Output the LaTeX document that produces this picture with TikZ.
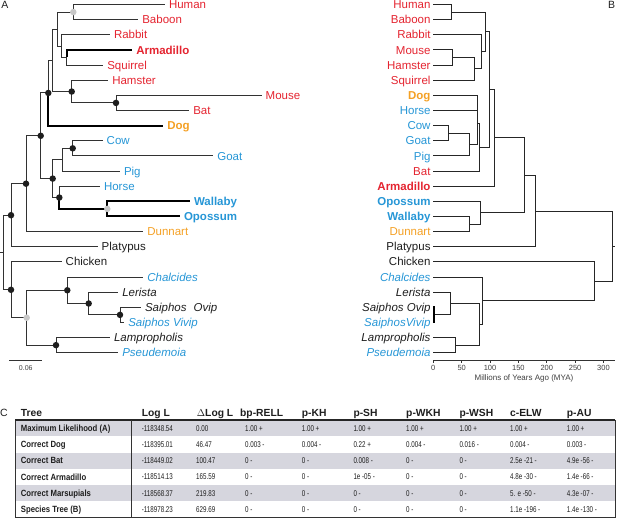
\documentclass[tikz,border=0pt]{standalone}
\usepackage{fontspec}
\setmainfont{Liberation Sans}
\newfontfamily\narrowsans[FakeStretch=0.74]{Liberation Sans}
\newfontfamily\narrowbold[FakeStretch=0.86]{Liberation Sans Bold}
\definecolor{tred}{RGB}{228,36,48}
\definecolor{torange}{RGB}{244,160,36}
\definecolor{tblue}{RGB}{38,150,214}
\definecolor{tblack}{RGB}{30,30,30}
\definecolor{tgray}{RGB}{200,200,200}
\definecolor{linec}{RGB}{50,50,50}
\definecolor{dotblack}{RGB}{30,30,30}
\definecolor{rowgray}{RGB}{214,214,222}
\begin{document}
\begin{tikzpicture}[x=1pt,y=-1pt,line join=miter,
  br/.style={draw=linec,line width=1pt},
  hbr/.style={draw=black,line width=2pt},
  lbl/.style={inner sep=0pt,text height=8.2pt,text depth=0pt,font=\fontsize{11.5}{13}\selectfont},
  lA/.style={lbl,anchor=west,xshift=3.8pt},
  lB/.style={lbl,anchor=east,xshift=-2.6pt},
  cr/.style={text=tred}, cor/.style={text=torange}, cb/.style={text=tblue}, ck/.style={text=tblack},
  bfl/.style={font=\fontsize{11.5}{13}\selectfont\bfseries},
  itl/.style={font=\fontsize{11.5}{13}\selectfont\itshape},
  bdot/.style={circle,fill=dotblack,inner sep=0pt,minimum size=6.5pt},
  gdot/.style={circle,fill=tgray,inner sep=0pt,minimum size=6.5pt},
  panel/.style={inner sep=0pt,font=\fontsize{10.5}{12}\selectfont,text=tblack},
  small/.style={inner sep=0pt,font=\fontsize{7.5}{9}\selectfont,text=tblack!85},
  hdr/.style={inner sep=0pt,anchor=west,text height=7.4pt,text depth=0pt,font=\fontsize{10.3}{12}\selectfont\bfseries,text=tblack},
  rlab/.style={inner sep=0pt,anchor=west,text height=6.5pt,text depth=0pt,font=\narrowbold\fontsize{9}{10}\selectfont,text=tblack},
  val/.style={inner sep=0pt,anchor=west,text height=6pt,text depth=0pt,font=\narrowsans\fontsize{8.4}{9}\selectfont,text=tblack},
]
\useasboundingbox (0,0) rectangle (617,528);

% ================= Tree A =================
\node[panel] (pA) at (5,5) {A};
% tips
\coordinate (aHuman) at (165,4.5);
\coordinate (aBaboon) at (138.3,19.64);
\coordinate (aRabbit) at (110,34.78);
\coordinate (aArmadillo) at (132.3,49.92);
\coordinate (aSquirrel) at (103.3,65.06);
\coordinate (aHamster) at (108.3,80.2);
\coordinate (aMouse) at (261.7,95.34);
\coordinate (aBat) at (189.3,110.48);
\coordinate (aDog) at (163.3,125.62);
\coordinate (aCow) at (102.7,140.76);
\coordinate (aGoat) at (213.3,155.9);
\coordinate (aPig) at (120,171.04);
\coordinate (aHorse) at (100,186.18);
\coordinate (aWallaby) at (190,201.32);
\coordinate (aOpossum) at (180,216.46);
\coordinate (aDunnart) at (143.3,231.6);
\coordinate (aPlatypus) at (97.7,246.74);
\coordinate (aChicken) at (61.7,261.88);
\coordinate (aChalcides) at (143.3,277.02);
\coordinate (aLerista) at (118.3,292.16);
\coordinate (aSOvip) at (141,307.3);
\coordinate (aSVivip) at (124.3,322.44);
\coordinate (aLampro) at (110,337.58);
\coordinate (aPseud) at (118.3,352.72);
% internal
\coordinate (nHB) at (73.3,12.07);
\coordinate (nAS) at (66.7,57.49);
\coordinate (nRAS) at (61,46.14);
\coordinate (nEA) at (57.7,29.1);
\coordinate (nMB) at (116,102.91);
\coordinate (nHMB) at (71.7,91.56);
\coordinate (nU1) at (52,60.33);
\coordinate (nD) at (48.3,92.98);
\coordinate (nCG) at (72.7,148.33);
\coordinate (nCGP) at (62,159.69);
\coordinate (nWO) at (107.3,208.89);
\coordinate (nHWO) at (59.3,197.54);
\coordinate (nL) at (52.7,178.6);
\coordinate (nE) at (40.7,135.8);
\coordinate (nT) at (26,183.7);
\coordinate (nM) at (11,215.2);
\coordinate (nSS) at (120,314.87);
\coordinate (nLS) at (88.7,303.5);
\coordinate (nCLS) at (67.3,290.26);
\coordinate (nLP) at (56,345.15);
\coordinate (nSq) at (26.7,317.7);
\coordinate (nR) at (11,289.8);
\coordinate (nRoot) at (3,252.5);
\coordinate (nStub) at (0,252.5);

\foreach \p/\c in {nHB/aHuman,nHB/aBaboon,nAS/aSquirrel,nRAS/aRabbit,nRAS/nAS,
  nEA/nHB,nEA/nRAS,nMB/aMouse,nMB/aBat,nHMB/aHamster,nHMB/nMB,nU1/nEA,nU1/nHMB,
  nD/nU1,nCG/aCow,nCG/aGoat,nCGP/nCG,nCGP/aPig,nHWO/aHorse,nL/nCGP,nL/nHWO,
  nE/nD,nE/nL,nT/nE,nT/aDunnart,nM/nT,nM/aPlatypus,nSS/aSOvip,nSS/aSVivip,
  nLS/aLerista,nLS/nSS,nCLS/aChalcides,nCLS/nLS,nLP/aLampro,nLP/aPseud,
  nSq/nCLS,nSq/nLP,nR/aChicken,nR/nSq,nRoot/nM,nRoot/nR}
  \draw[br] (\p) |- (\c);
\draw[br] (nStub) -- (nRoot);
\foreach \p/\c in {nAS/aArmadillo,nD/aDog,nWO/aWallaby,nWO/aOpossum,nHWO/nWO}
  \draw[hbr] (\p) |- (\c);

\foreach \n in {nD,nHMB,nMB,nE,nCG,nL,nHWO,nT,nM,nR,nCLS,nLS,nSS,nLP}
  \node[bdot] (d\n) at (\n) {};
\foreach \n in {nHB,nWO,nSq}
  \node[gdot] (d\n) at (\n) {};

\node[lA,cr] (laHuman) at (aHuman) {Human};
\node[lA,cr] (laBaboon) at (aBaboon) {Baboon};
\node[lA,cr] (laRabbit) at (aRabbit) {Rabbit};
\node[lA,cr,bfl] (laArmadillo) at (aArmadillo) {Armadillo};
\node[lA,cr] (laSquirrel) at (aSquirrel) {Squirrel};
\node[lA,cr] (laHamster) at (aHamster) {Hamster};
\node[lA,cr] (laMouse) at (aMouse) {Mouse};
\node[lA,cr] (laBat) at (aBat) {Bat};
\node[lA,cor,bfl] (laDog) at (aDog) {Dog};
\node[lA,cb] (laCow) at (aCow) {Cow};
\node[lA,cb] (laGoat) at (aGoat) {Goat};
\node[lA,cb] (laPig) at (aPig) {Pig};
\node[lA,cb] (laHorse) at (aHorse) {Horse};
\node[lA,cb,bfl] (laWallaby) at (aWallaby) {Wallaby};
\node[lA,cb,bfl] (laOpossum) at (aOpossum) {Opossum};
\node[lA,cor] (laDunnart) at (aDunnart) {Dunnart};
\node[lA,ck] (laPlatypus) at (aPlatypus) {Platypus};
\node[lA,ck] (laChicken) at (aChicken) {Chicken};
\node[lA,cb,itl] (laChalcides) at (aChalcides) {Chalcides};
\node[lA,ck,itl] (laLerista) at (aLerista) {Lerista};
\node[lA,ck,itl] (laSOvip) at (aSOvip) {Saiphos\hspace{4pt} Ovip};
\node[lA,cb,itl] (laSVivip) at (aSVivip) {Saiphos Vivip};
\node[lA,ck,itl] (laLampro) at (aLampro) {Lampropholis};
\node[lA,cb,itl] (laPseud) at (aPseud) {Pseudemoia};

% scale bar
\coordinate (sb0) at (9.3,360.7);
\coordinate (sb1) at (42.3,360.7);
\draw[br,line width=0.9pt] (sb0) -- (sb1);
\node[small,font=\fontsize{7}{8}\selectfont] (sbl) at (25.8,368) {0.06};

% ================= Tree B =================
\node[panel] (pB) at (611.7,5.3) {B};
\coordinate (bHuman) at (433.3,4.5);
\coordinate (bBaboon) at (433.3,19.64);
\coordinate (bRabbit) at (433.3,34.78);
\coordinate (bMouse) at (433.3,49.92);
\coordinate (bHamster) at (433.3,65.06);
\coordinate (bSquirrel) at (433.3,80.2);
\coordinate (bDog) at (433.3,95.34);
\coordinate (bHorse) at (433.3,110.48);
\coordinate (bCow) at (433.3,125.62);
\coordinate (bGoat) at (433.3,140.76);
\coordinate (bPig) at (433.3,155.9);
\coordinate (bBat) at (433.3,171.04);
\coordinate (bArmadillo) at (433.3,186.18);
\coordinate (bOpossum) at (433.3,201.32);
\coordinate (bWallaby) at (433.3,216.46);
\coordinate (bDunnart) at (433.3,231.6);
\coordinate (bPlatypus) at (433.3,246.74);
\coordinate (bChicken) at (433.3,261.88);
\coordinate (bChalcides) at (433.3,277.02);
\coordinate (bLerista) at (433.3,292.16);
\coordinate (bSOvip) at (433.3,307.3);
\coordinate (bSVivip) at (433.3,322.44);
\coordinate (bLampro) at (433.3,337.58);
\coordinate (bPseud) at (433.3,352.72);

\coordinate (mHB) at (451,12.07);
\coordinate (mMH) at (452.7,57.49);
\coordinate (mMHS) at (474.3,68.85);
\coordinate (mRMHS) at (481,51.8);
\coordinate (mEA) at (485,31.94);
\coordinate (mCG) at (448.3,133.19);
\coordinate (mCGP) at (469.3,144.5);
\coordinate (mDH) at (477,102.91);
\coordinate (mX) at (477.7,123.7);
\coordinate (mLau) at (479,147.4);
\coordinate (mB1) at (489.3,89.67);
\coordinate (mB2) at (494,137.9);
\coordinate (mWD) at (469.3,224.03);
\coordinate (mOWD) at (480.7,212.7);
\coordinate (mTh) at (524.3,175.3);
\coordinate (mMam) at (535.7,211);
\coordinate (mSS) at (434.3,314.87);
\coordinate (mLS) at (450,303.5);
\coordinate (mLP) at (455,345.15);
\coordinate (mLSLP) at (479.3,324.3);
\coordinate (mCh) at (482.7,300.7);
\coordinate (mRep) at (594,281.3);
\coordinate (mRoot) at (612.3,246.1);
\coordinate (mStub) at (615,246.1);

\foreach \p/\c in {mHB/bHuman,mHB/bBaboon,mMH/bMouse,mMH/bHamster,mMHS/mMH,mMHS/bSquirrel,
  mRMHS/bRabbit,mRMHS/mMHS,mEA/mHB,mEA/mRMHS,mCG/bCow,mCG/bGoat,mCGP/mCG,mCGP/bPig,
  mDH/bDog,mDH/bHorse,mX/mDH,mX/mCGP,mLau/mX,mLau/bBat,mB1/mEA,mB1/mLau,
  mB2/mB1,mB2/bArmadillo,mWD/bWallaby,mWD/bDunnart,mOWD/bOpossum,mOWD/mWD,
  mTh/mB2,mTh/mOWD,mMam/mTh,mMam/bPlatypus,mSS/bSOvip,mSS/bSVivip,mLS/bLerista,mLS/mSS,
  mLP/bLampro,mLP/bPseud,mLSLP/mLS,mLSLP/mLP,mCh/bChalcides,mCh/mLSLP,
  mRep/bChicken,mRep/mCh,mRoot/mMam,mRoot/mRep}
  \draw[br,draw=black!85] (\p) |- (\c);
\draw[br,draw=black!85] (mRoot) -- (mStub);
\draw[draw=black,line width=1.8pt] (mSS) |- (bSOvip);
\draw[draw=black,line width=1.8pt] (mSS) |- (bSVivip);

\node[lB,cr] (lbHuman) at (bHuman) {Human};
\node[lB,cr] (lbBaboon) at (bBaboon) {Baboon};
\node[lB,cr] (lbRabbit) at (bRabbit) {Rabbit};
\node[lB,cr] (lbMouse) at (bMouse) {Mouse};
\node[lB,cr] (lbHamster) at (bHamster) {Hamster};
\node[lB,cr] (lbSquirrel) at (bSquirrel) {Squirrel};
\node[lB,cor,bfl] (lbDog) at (bDog) {Dog};
\node[lB,cb] (lbHorse) at (bHorse) {Horse};
\node[lB,cb] (lbCow) at (bCow) {Cow};
\node[lB,cb] (lbGoat) at (bGoat) {Goat};
\node[lB,cb] (lbPig) at (bPig) {Pig};
\node[lB,cr] (lbBat) at (bBat) {Bat};
\node[lB,cr,bfl] (lbArmadillo) at (bArmadillo) {Armadillo};
\node[lB,cb,bfl] (lbOpossum) at (bOpossum) {Opossum};
\node[lB,cb,bfl] (lbWallaby) at (bWallaby) {Wallaby};
\node[lB,cor] (lbDunnart) at (bDunnart) {Dunnart};
\node[lB,ck] (lbPlatypus) at (bPlatypus) {Platypus};
\node[lB,ck] (lbChicken) at (bChicken) {Chicken};
\node[lB,cb,itl] (lbChalcides) at (bChalcides) {Chalcides};
\node[lB,ck,itl] (lbLerista) at (bLerista) {Lerista};
\node[lB,ck,itl] (lbSOvip) at (bSOvip) {Saiphos Ovip};
\node[lB,cb,itl] (lbSVivip) at (bSVivip) {SaiphosVivip};
\node[lB,ck,itl] (lbLampro) at (bLampro) {Lampropholis};
\node[lB,cb,itl] (lbPseud) at (bPseud) {Pseudemoia};

% axis
\coordinate (ax0) at (433.3,360);
\coordinate (ax1) at (614.5,360);
\draw[draw=black!80,line width=0.8pt] (ax0) -- (ax1);
\foreach \t in {0,50,...,300} {
  \coordinate (tk\t) at ({433.3+0.5673*\t},360);
  \draw[draw=black!80,line width=0.7pt] (tk\t) -- ++(0,2.5);
  \node[small] (tl\t) at ({433.3+0.5673*\t},367.7) {\t};
}
\node[small,font=\fontsize{8}{9}\selectfont] (axt) at (524,378.3) {Millions of Years Ago (MYA)};

% ================= Table C =================
\node[panel] (pC) at (4,413) {C};
\foreach \r/\yt in {1/420,3/452.5,5/485}
  \fill[rowgray] (15,\yt) rectangle (615,\yt+16.25);
\draw[draw=black!80,line width=0.8pt] (15,420) rectangle (615,517.5);
\draw[draw=black!85,line width=1.4pt] (15,420) -- (615,420);
\draw[draw=black!80,line width=0.8pt] (131.7,420) -- (131.7,517.5);

\node[hdr] (hTree) at (20.7,412.7) {Tree};
\node[hdr] (hLogL) at (141.7,412.7) {Log L};
\node[hdr] (hDLogL) at (196.7,412.7) {$\Delta$Log L};
\node[hdr] (hRELL) at (240,412.7) {bp-RELL};
\node[hdr] (hKH) at (301.7,412.7) {p-KH};
\node[hdr] (hSH) at (353.3,412.7) {p-SH};
\node[hdr] (hWKH) at (406,412.7) {p-WKH};
\node[hdr] (hWSH) at (459.3,412.7) {p-WSH};
\node[hdr] (hELW) at (510,412.7) {c-ELW};
\node[hdr] (hAU) at (566.7,412.7) {p-AU};

\node[rlab] (r1) at (20.7,428.1) {Maximum Likelihood (A)};
\node[rlab] (r2) at (20.7,444.4) {Correct Dog};
\node[rlab] (r3) at (20.7,460.6) {Correct Bat};
\node[rlab] (r4) at (20.7,476.9) {Correct Armadillo};
\node[rlab] (r5) at (20.7,493.1) {Correct Marsupials};
\node[rlab] (r6) at (20.7,509.4) {Species Tree (B)};

\def\colx{{141.7,196,245,301.7,353.3,406,459.3,510,566.7}}
\foreach \v [count=\c from 0] in {-118348.54,0.00,1.00 +,1.00 +,1.00 +,1.00 +,1.00 +,1.00 +,1.00 +}
  {\pgfmathsetmacro\xx{\colx[\c]}\node[val] (v1c\c) at (\xx,428.1) {\v};}
\foreach \v [count=\c from 0] in {-118395.01,46.47,0.003 -,0.004 -,0.22 +,0.004 -,0.016 -,0.004 -,0.003 -}
  {\pgfmathsetmacro\xx{\colx[\c]}\node[val] (v2c\c) at (\xx,444.4) {\v};}
\foreach \v [count=\c from 0] in {-118449.02,100.47,0 -,0 -,0.008 -,0 -,0 -,2.5e -21 -,4.9e -56 -}
  {\pgfmathsetmacro\xx{\colx[\c]}\node[val] (v3c\c) at (\xx,460.6) {\v};}
\foreach \v [count=\c from 0] in {-118514.13,165.59,0 -,0 -,1e -05 -,0 -,0 -,4.8e -30 -,1.4e -66 -}
  {\pgfmathsetmacro\xx{\colx[\c]}\node[val] (v4c\c) at (\xx,476.9) {\v};}
\foreach \v [count=\c from 0] in {-118568.37,219.83,0 -,0 -,0 -,0 -,0 -,5. e -50 -,4.3e -07 -}
  {\pgfmathsetmacro\xx{\colx[\c]}\node[val] (v5c\c) at (\xx,493.1) {\v};}
\foreach \v [count=\c from 0] in {-118978.23,629.69,0 -,0 -,0 -,0 -,0 -,1.1e -196 -,1.4e -130 -}
  {\pgfmathsetmacro\xx{\colx[\c]}\node[val] (v6c\c) at (\xx,509.4) {\v};}
\end{tikzpicture}
\end{document}
